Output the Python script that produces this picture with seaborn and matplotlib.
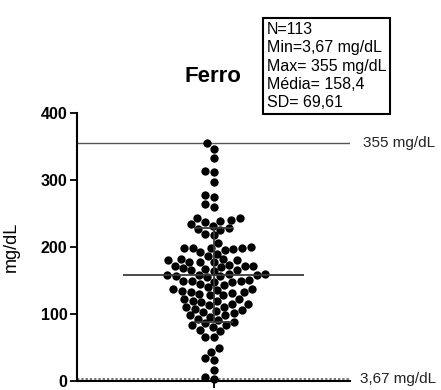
import matplotlib
matplotlib.use("Agg")
import matplotlib.pyplot as plt
import matplotlib.transforms as mtransforms
import seaborn as sns
import pandas as pd

# ---- data ----
ferro_values = [355, 346, 333, 313, 312, 297, 278, 275, 264, 259,
                244, 243, 241, 239,
                238, 235, 232, 229, 227, 226,
                219, 218, 206,
                200, 199, 199, 199, 198, 197, 195, 192, 190,
                187, 182, 182, 180, 180, 177, 177, 177, 173, 172, 172, 171, 170,
                168, 167, 166, 165, 164, 160, 160, 158, 158, 158, 157, 157, 155, 151, 150, 150, 150,
                148, 148, 145, 143, 140, 138, 138, 136, 135, 133, 133, 131, 130,
                128, 128, 123, 123, 120, 120, 118, 115, 115, 113, 111, 111,
                108, 106, 105, 103, 101, 98, 98, 96, 93, 91,
                88, 86, 83, 83, 81, 76, 74,
                66, 66,
                49, 44, 34, 32, 17, 6, 3.67]
group_name = "Ferro"
stat_mean = 158.4
stat_sd = 69.61
stat_min = 3.67
stat_max = 355
y_ticks = [0, 100, 200, 300, 400]
stats_lines = ["N=113", "Min=3,67 mg/dL", "Max= 355 mg/dL", "Média= 158,4", "SD= 69,61"]
max_label = "355 mg/dL"
min_label = "3,67 mg/dL"
y_label = "mg/dL"

sns.set_style("ticks")
plt.rcParams['font.family'] = ['Liberation Sans', 'DejaVu Sans']
plt.rcParams['text.color'] = 'black'
plt.rcParams['axes.labelcolor'] = 'black'

W, H = 441, 390
fig = plt.figure(figsize=(W / 100, H / 100), dpi=100)
ax = fig.add_axes([77 / W, 9 / H, 273 / W, 268 / H])

df = pd.DataFrame({"grupo": [group_name] * len(ferro_values), "valor": ferro_values})
sns.swarmplot(data=df, x="grupo", y="valor", color="black", size=6,
              linewidth=0, ax=ax, clip_on=False, zorder=3)

ax.set_xlim(-0.5, 0.5)
ax.set_ylim(0, 400)

# reference lines (max / min)
ax.axhline(stat_max, color="#555555", lw=1.0, zorder=1)
ax.axhline(stat_min, color="#777777", lw=1.4, ls=(0, (1.2, 1.0)), zorder=1)
tr = mtransforms.blended_transform_factory(ax.transAxes, ax.transData)
ax.text(1.048, stat_max, max_label, transform=tr, va="center", ha="left",
        fontsize=11, color="#222222")
ax.text(1.038, stat_min, min_label, transform=tr, va="center", ha="left",
        fontsize=11, color="#222222")

# mean line and SD error bar
lc = "#3a3a3a"
ax.hlines(stat_mean, -0.33, 0.33, color=lc, lw=1.3, zorder=4)
ax.vlines(0, stat_mean - stat_sd, stat_mean + stat_sd, color=lc, lw=1.3, zorder=4)
ax.hlines([stat_mean - stat_sd, stat_mean + stat_sd], -0.07, 0.07, color=lc, lw=1.3, zorder=4)

# axes styling
sns.despine(ax=ax, top=True, right=True)
for s in ["left", "bottom"]:
    ax.spines[s].set_linewidth(1.5)
    ax.spines[s].set_color("black")
ax.set_yticks(y_ticks)
ax.set_yticklabels([str(t) for t in y_ticks], fontweight="bold", fontsize=11.5)
ax.tick_params(axis="y", length=5, width=1.3, pad=2, colors="black")
ax.tick_params(axis="x", length=5, width=1.3, labelbottom=False, colors="black")
ax.set_xticks([0])
ax.set_xlabel("")
ax.set_ylabel(y_label, fontsize=13)
ax.yaxis.set_label_coords(-0.209, 0.5)

# title and stats box
fig.text(213 / W, 1 - 77 / H, group_name, ha="center", va="center",
         fontsize=16, fontweight="bold")
fig.text(267 / W, 1 - 22 / H, "\n".join(stats_lines), ha="left", va="top",
         fontsize=11.5, linespacing=1.28,
         bbox=dict(boxstyle="square,pad=0.25", fc="white", ec="black", lw=1.5))

fig.savefig("out.png", dpi=100)
